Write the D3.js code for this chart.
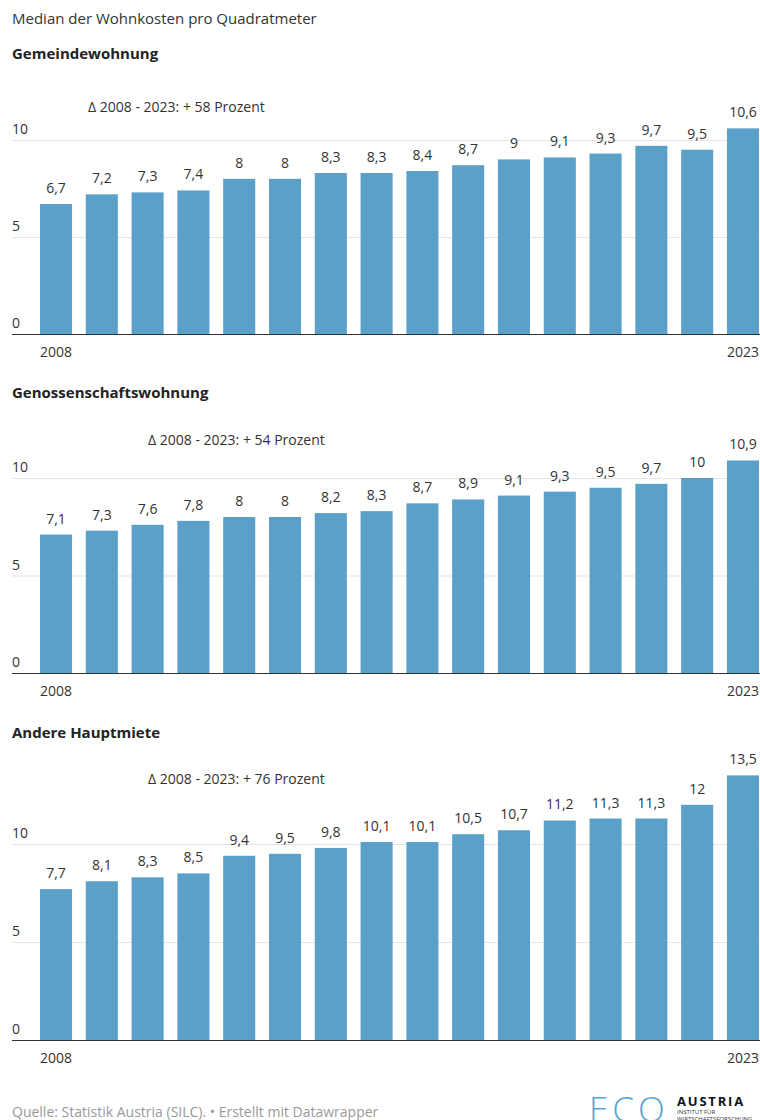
<!DOCTYPE html>
<html><head><meta charset="utf-8">
<script src="https://cdn.jsdelivr.net/npm/d3@7"></script>
<style>
html,body{margin:0;padding:0;background:#fff;}
svg{display:block;font-family:"Open Sans",sans-serif;}
</style></head>
<body>
<svg id="c" width="760" height="1120"></svg>
<script>
const years = d3.range(2008, 2024).map(String);
const gemeinde = [6.7, 7.2, 7.3, 7.4, 8, 8, 8.3, 8.3, 8.4, 8.7, 9, 9.1, 9.3, 9.7, 9.5, 10.6];
const genossen = [7.1, 7.3, 7.6, 7.8, 8, 8, 8.2, 8.3, 8.7, 8.9, 9.1, 9.3, 9.5, 9.7, 10, 10.9];
const andere = [7.7, 8.1, 8.3, 8.5, 9.4, 9.5, 9.8, 10.1, 10.1, 10.5, 10.7, 11.2, 11.3, 11.3, 12, 13.5];
const panelTitles = ["Gemeindewohnung", "Genossenschaftswohnung", "Andere Hauptmiete"];
const deltaLabels = ["Δ 2008 - 2023: + 58 Prozent", "Δ 2008 - 2023: + 54 Prozent", "Δ 2008 - 2023: + 76 Prozent"];
const yTicks = [0, 5, 10];
const series = [gemeinde, genossen, andere];

const svg = d3.select("#c");
const fmt = v => String(v).replace(".", ",");

svg.append("text").attr("x", 12).attr("y", 24).attr("font-size", 15).attr("fill", "#333")
  .text("Median der Wohnkosten pro Quadratmeter");

// layout per panel: title baseline, delta pos, axis baseline, y of value 10
const layout = [
  {title: 59, deltaX: 88, deltaY: 112, base: 334, ten: 140},
  {title: 398, deltaX: 148, deltaY: 445, base: 673, ten: 478},
  {title: 738, deltaX: 148, deltaY: 784, base: 1040, ten: 844}
];

const x = d3.scaleBand().domain(years).range([40, 759]).paddingInner(0.3).paddingOuter(0);

series.forEach((vals, i) => {
  const L = layout[i];
  const g = svg.append("g");
  const y = d3.scaleLinear().domain([0, 10]).range([L.base, L.ten]);
  g.append("text").attr("x", 12).attr("y", L.title).attr("font-size", 15)
    .attr("font-weight", 700).attr("fill", "#222").text(panelTitles[i]);
  const grid = g.append("g").attr("transform", "translate(12,0)")
    .call(d3.axisLeft(y).tickValues(yTicks).tickSize(-(760 - 12)).tickFormat(""));
  grid.select(".domain").remove();
  grid.selectAll(".tick line").attr("stroke", (d) => d === 0 ? "#333" : "#e5e5e5").attr("stroke-width", 1);
  g.selectAll(".yl").data(yTicks).join("text").attr("x", 12).attr("y", d => y(d) - 6)
    .attr("font-size", 14).attr("fill", "#333").text(d => d);
  const data = years.map((yr, k) => ({yr, v: vals[k]}));
  g.selectAll("rect").data(data).join("rect")
    .attr("x", d => x(d.yr)).attr("width", x.bandwidth())
    .attr("y", d => y(d.v)).attr("height", d => L.base - y(d.v))
    .attr("fill", "#5aa0c9");
  g.selectAll(".vl").data(data).join("text")
    .attr("x", d => x(d.yr) + x.bandwidth() / 2).attr("y", d => y(d.v) - 11)
    .attr("text-anchor", "middle").attr("font-size", 14).attr("fill", "#333")
    .text(d => fmt(d.v));
  g.append("line").attr("x1", 12).attr("x2", 760).attr("y1", L.base + 0.5).attr("y2", L.base + 0.5)
    .attr("stroke", "#333").attr("stroke-width", 1);
  [years[0], years[years.length - 1]].forEach(yr => {
    g.append("text").attr("x", x(yr) + x.bandwidth() / 2).attr("y", L.base + 23)
      .attr("text-anchor", "middle").attr("font-size", 14).attr("fill", "#333").text(yr);
  });
  g.append("text").attr("x", L.deltaX).attr("y", L.deltaY).attr("font-size", 14)
    .attr("fill", "#333").text(deltaLabels[i]);
});

svg.append("text").attr("x", 12).attr("y", 1117).attr("font-size", 14).attr("fill", "#999")
  .text("Quelle: Statistik Austria (SILC). • Erstellt mit Datawrapper");

// logo
const logo = svg.append("g");
logo.append("text").attr("x", 589).attr("y", 1122).attr("font-size", 35).attr("font-weight", 300)
  .attr("letter-spacing", 4).attr("fill", "#5aa5d0").text("ECO");
logo.append("text").attr("x", 677).attr("y", 1106).attr("font-size", 13).attr("font-weight", 700)
  .attr("letter-spacing", 1.8).attr("fill", "#111").text("AUSTRIA");
logo.append("text").attr("x", 677).attr("y", 1114).attr("font-size", 6).attr("fill", "#333")
  .text("INSTITUT FÜR");
logo.append("text").attr("x", 677).attr("y", 1121).attr("font-size", 6).attr("fill", "#333")
  .text("WIRTSCHAFTSFORSCHUNG");
</script>
</body></html>
